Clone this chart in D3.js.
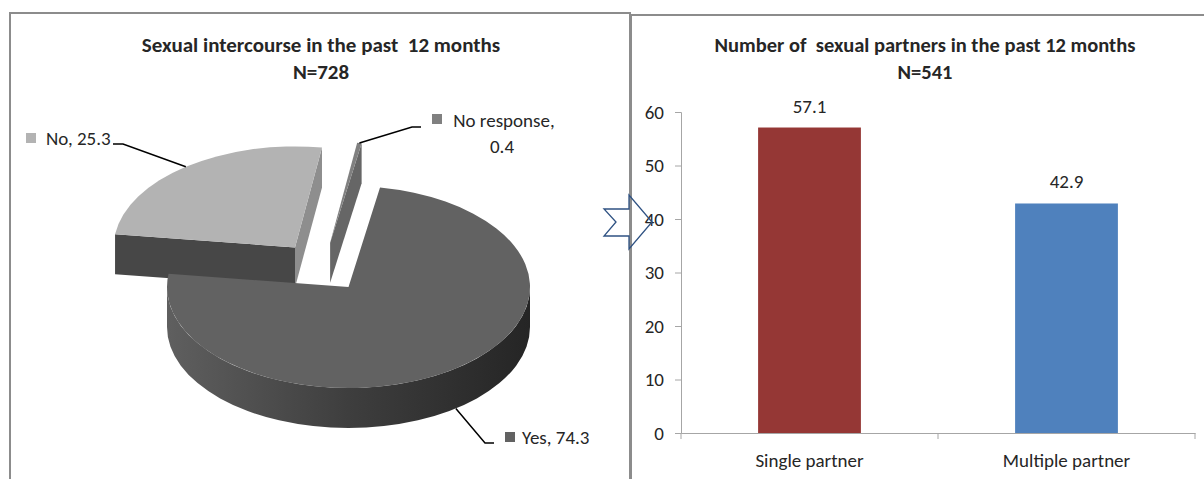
<!DOCTYPE html>
<html>
<head>
<meta charset="utf-8">
<script src="https://cdn.jsdelivr.net/npm/d3@7/dist/d3.min.js"></script>
<style>
  body { margin: 0; background: #fff; }
  text { font-family: Carlito, Calibri, Lato, sans-serif; fill: #262626; }
</style>
</head>
<body>
<svg id="chart" width="1204" height="479"></svg>
<script>
// pie: sexual intercourse in the past 12 months
var pieLabels = ["Yes", "No", "No response"],
    pieValues = [74.3, 25.3, 0.4],
    pieColors = ["#626262", "#b3b3b3", "#808080"];

// bars: number of sexual partners
var barLabels = ["Single partner", "Multiple partner"],
    barValues = [57.1, 42.9],
    barColors = ["#953735", "#4f81bd"];

var yTicks = [0, 10, 20, 30, 40, 50, 60];

var fs = "19px";

var svg = d3.select("#chart");
var defs = svg.append("defs");

// panel frames
svg.append("path")
  .attr("d", "M10,479 L10,13 L630,13 L630,479")
  .attr("fill", "none").attr("stroke", "#8c8c8c").attr("stroke-width", 2);
svg.append("path")
  .attr("d", "M631,479 L631,15 L1204,15")
  .attr("fill", "none").attr("stroke", "#8c8c8c").attr("stroke-width", 2);

// titles
var titles = [
  {x: 321, size: "21px", lines: ["Sexual intercourse in the past  12 months", "N=728"]},
  {x: 925, size: "20.5px", lines: ["Number of  sexual partners in the past 12 months", "N=541"]}
];
titles.forEach(t => {
  t.lines.forEach((l, i) => {
    svg.append("text")
      .attr("x", t.x).attr("y", 52 + i * 27)
      .attr("text-anchor", "middle")
      .style("font-size", t.size).style("font-weight", "bold")
      .style("white-space", "pre")
      .text(l);
  });
});

// ---------- 3D pie ----------
var cx = 348.5, cy = 287, rx = 181.5, ry = 101, depth = 40;
var explode = {"No": {pull: 0.49}, "No response": {pull: 0.45, angle: -13}};

var arcs = d3.pie().sort(null)
  .startAngle(10 * Math.PI / 180)
  .endAngle(370 * Math.PI / 180)(pieValues);

arcs.forEach((a, i) => {
  a.label = pieLabels[i];
  a.color = pieColors[i];
  a.mid = (a.startAngle + a.endAngle) / 2;
  var e = explode[a.label];
  var dir = e && e.angle !== undefined ? e.angle * Math.PI / 180 : a.mid;
  var k = e ? e.pull : 0;
  a.ox = cx + k * rx * Math.sin(dir);
  a.oy = cy - k * ry * Math.cos(dir);
});

var pt = (a, t, dz) => [a.ox + rx * Math.sin(t), a.oy - ry * Math.cos(t) + (dz || 0)];

var gPie = svg.append("g");

// back slices first
arcs.slice().sort((p, q) => p.oy - q.oy).forEach((a, i) => {
  var base = d3.color(a.color);
  var g = gPie.append("g");

  // radial cut faces that face the viewer
  [[a.startAngle, Math.sin(a.startAngle) < 0, base.darker(2.6)],
   [a.endAngle, Math.sin(a.endAngle) > 0, base.darker(0.65)]].forEach(f => {
    if (!f[1]) return;
    var p0 = pt(a, f[0], 0), p1 = pt(a, f[0], depth);
    g.append("path")
      .attr("d", `M${a.ox},${a.oy} L${p0} L${p1} L${a.ox},${a.oy + depth} Z`)
      .attr("fill", f[2]);
  });

  // outer wall, front half only
  var lo = Math.max(a.startAngle, Math.PI / 2),
      hi = Math.min(a.endAngle, 3 * Math.PI / 2);
  if (hi > lo) {
    var gid = "wall" + i;
    var grad = defs.append("linearGradient").attr("id", gid)
      .attr("gradientUnits", "userSpaceOnUse")
      .attr("x1", a.ox - rx).attr("x2", a.ox + rx).attr("y1", 0).attr("y2", 0);
    [[0, 0.1], [0.5, 1.3], [1, 2.7]].forEach(s => {
      grad.append("stop").attr("offset", s[0]).attr("stop-color", base.darker(s[1]));
    });
    var large = hi - lo > Math.PI ? 1 : 0;
    g.append("path")
      .attr("d", `M${pt(a, lo)} A${rx},${ry} 0 ${large} 1 ${pt(a, hi)}` +
                 ` L${pt(a, hi, depth)} A${rx},${ry} 0 ${large} 0 ${pt(a, lo, depth)} Z`)
      .attr("fill", `url(#${gid})`);
  }

  // top face
  var largeTop = a.endAngle - a.startAngle > Math.PI ? 1 : 0;
  g.append("path")
    .attr("d", `M${a.ox},${a.oy} L${pt(a, a.startAngle)} A${rx},${ry} 0 ${largeTop} 1 ${pt(a, a.endAngle)} Z`)
    .attr("fill", a.color);
});

// pie labels with leaders
var pieLabelLayout = {
  "No":          {elbow: [123, 144], end: [113, 144], key: [26, 133], text: 46, base: 145},
  "No response": {elbow: [412, 127], end: [421, 127], key: [432, 114], text: 504, base: 127},
  "Yes":         {elbow: [485, 443], end: [494, 443], key: [505, 432], text: 522, base: 444}
};

arcs.forEach(a => {
  var L = pieLabelLayout[a.label];
  var front = Math.cos(a.mid) < 0;
  var rim = pt(a, a.mid, front ? depth : 0);
  svg.append("path")
    .attr("d", `M${rim} L${L.elbow} L${L.end}`)
    .attr("fill", "none").attr("stroke", "#000").attr("stroke-width", 1.5);
  svg.append("rect")
    .attr("x", L.key[0]).attr("y", L.key[1])
    .attr("width", 10).attr("height", 10)
    .attr("fill", a.color);
  var val = d3.format(".1f")(a.value);
  if (a.label === "No response") {
    svg.append("text").attr("x", L.text).attr("y", L.base)
      .attr("text-anchor", "middle").style("font-size", fs)
      .text(a.label + ",");
    svg.append("text").attr("x", L.text - 2).attr("y", L.base + 26)
      .attr("text-anchor", "middle").style("font-size", fs)
      .text(val);
  } else {
    svg.append("text").attr("x", L.text).attr("y", L.base)
      .style("font-size", fs)
      .text(a.label + ", " + val);
  }
});

// ---------- bar chart ----------
var x = d3.scaleBand().domain(barLabels).range([681, 1195]);
var y = d3.scaleLinear().domain([0, 60]).range([433, 112]);

var yAxis = svg.append("g")
  .attr("transform", "translate(681,0)")
  .call(d3.axisLeft(y).tickValues(yTicks).tickSize(6).tickPadding(11));
yAxis.selectAll("path, line").attr("stroke", "#a6a6a6");
yAxis.selectAll("text").style("font-size", fs).attr("fill", "#262626")
  .style("font-family", null);

var xAxis = svg.append("g")
  .attr("transform", "translate(0,433)")
  .call(d3.axisBottom(x).tickSize(0).tickPadding(21).tickSizeOuter(0));
xAxis.select(".domain").attr("stroke", "#a6a6a6");
xAxis.selectAll("text").style("font-size", fs).attr("fill", "#262626")
  .style("font-family", null);

// tick marks between categories
var bounds = barLabels.map(d => x(d)).concat([x(barLabels[barLabels.length - 1]) + x.step()]);
xAxis.selectAll(".sep")
  .data(bounds)
  .join("line")
  .attr("class", "sep")
  .attr("x1", d => d).attr("x2", d => d)
  .attr("y1", 0).attr("y2", 6)
  .attr("stroke", "#a6a6a6");

var barW = x.bandwidth() * 0.4;
svg.selectAll(".bar")
  .data(barValues)
  .join("rect")
  .attr("class", "bar")
  .attr("x", (d, i) => x(barLabels[i]) + (x.bandwidth() - barW) / 2)
  .attr("y", d => y(d))
  .attr("width", barW)
  .attr("height", d => y(0) - y(d))
  .attr("fill", (d, i) => barColors[i]);

svg.selectAll(".val")
  .data(barValues)
  .join("text")
  .attr("class", "val")
  .attr("x", (d, i) => x(barLabels[i]) + x.bandwidth() / 2)
  .attr("y", d => y(d) - 15)
  .attr("text-anchor", "middle")
  .style("font-size", fs)
  .text(d => d3.format(".1f")(d));

// block arrow between the panels
svg.append("path")
  .attr("d", "M604,209 L629,209 L629,195 L652,222 L629,249 L629,236 L604,236 L616,222 Z")
  .attr("fill", "none").attr("stroke", "#2f5283").attr("stroke-width", 1.3);
</script>
</body>
</html>
